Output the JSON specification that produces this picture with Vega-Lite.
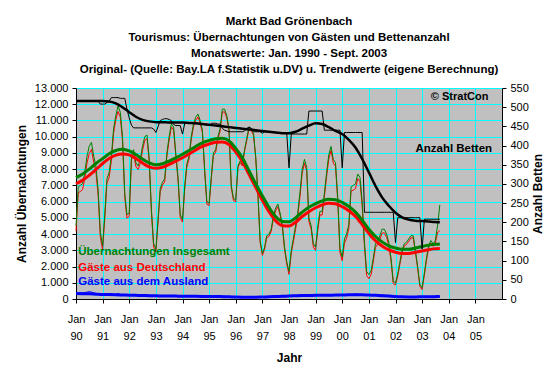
{
  "$schema": "https://vega.github.io/schema/vega-lite/v6.json",
  "width": 426,
  "height": 211,
  "autosize": {"type": "none"},
  "padding": {"left": 76, "top": 88, "right": 58, "bottom": 75},
  "background": "white",
  "config": {
    "font": "Liberation Sans",
    "view": {"fill": "#C0C0C0", "stroke": null},
    "axis": {
      "labelFont": "Liberation Sans", "labelFontSize": 11, "labelColor": "black",
      "titleFont": "Liberation Sans", "titleFontSize": 12, "titleFontWeight": "bold", "titleColor": "black",
      "domainColor": "black", "tickColor": "black", "tickSize": 4,
      "gridColor": "#00FFFF", "gridOpacity": 1, "gridWidth": 1
    }
  },
  "title": {
    "text": ["Markt Bad Grönenbach", "Tourismus: Übernachtungen von Gästen und Bettenanzahl", "Monatswerte: Jan. 1990 - Sept. 2003", "Original- (Quelle: Bay.LA f.Statistik u.DV) u. Trendwerte (eigene Berechnung)"],
    "fontSize": 11.5, "fontWeight": "bold", "lineHeight": 16, "anchor": "middle", "frame": "group", "offset": 7, "color": "black", "font": "Liberation Sans"
  },
  "datasets": {
    "m": [
      {"d":"1990-01","t":4500,"g":4170,"a":330,"b":516},{"d":"1990-02","t":6900,"g":6550,"a":350,"b":516},{"d":"1990-03","t":7000,"g":6620,"a":380,"b":516},{"d":"1990-04","t":7100,"g":6740,"a":360,"b":516},{"d":"1990-05","t":7800,"g":7400,"a":400,"b":516},{"d":"1990-06","t":8800,"g":8380,"a":420,"b":516},{"d":"1990-07","t":9400,"g":8950,"a":450,"b":516},{"d":"1990-08","t":9650,"g":9220,"a":430,"b":516},{"d":"1990-09","t":8800,"g":8420,"a":380,"b":516},{"d":"1990-10","t":8200,"g":7850,"a":350,"b":516},{"d":"1990-11","t":6700,"g":6380,"a":320,"b":516},{"d":"1990-12","t":4100,"g":3800,"a":300,"b":508},
      {"d":"1991-01","t":3300,"g":3020,"a":280,"b":508},{"d":"1991-02","t":5300,"g":5030,"a":270,"b":508},{"d":"1991-03","t":7400,"g":7120,"a":280,"b":512},{"d":"1991-04","t":7800,"g":7500,"a":300,"b":516},{"d":"1991-05","t":8800,"g":8510,"a":290,"b":525},{"d":"1991-06","t":10500,"g":10220,"a":280,"b":525},{"d":"1991-07","t":11300,"g":11040,"a":260,"b":525},{"d":"1991-08","t":11900,"g":11550,"a":350,"b":525},{"d":"1991-09","t":11500,"g":11220,"a":280,"b":523},{"d":"1991-10","t":10000,"g":9740,"a":260,"b":523},{"d":"1991-11","t":6500,"g":6260,"a":240,"b":523},{"d":"1991-12","t":5200,"g":4980,"a":220,"b":495},
      {"d":"1992-01","t":5300,"g":5080,"a":220,"b":472},{"d":"1992-02","t":8800,"g":8570,"a":230,"b":453},{"d":"1992-03","t":9200,"g":8960,"a":240,"b":446},{"d":"1992-04","t":8400,"g":8170,"a":230,"b":446},{"d":"1992-05","t":8200,"g":7980,"a":220,"b":446},{"d":"1992-06","t":8600,"g":8350,"a":250,"b":446},{"d":"1992-07","t":9400,"g":9140,"a":260,"b":446},{"d":"1992-08","t":10000,"g":9760,"a":240,"b":446},{"d":"1992-09","t":10100,"g":9880,"a":220,"b":446},{"d":"1992-10","t":8700,"g":8490,"a":210,"b":446},{"d":"1992-11","t":5500,"g":5300,"a":200,"b":446},{"d":"1992-12","t":3400,"g":3200,"a":200,"b":443},
      {"d":"1993-01","t":3100,"g":2910,"a":190,"b":434},{"d":"1993-02","t":5000,"g":4810,"a":190,"b":450},{"d":"1993-03","t":6800,"g":6600,"a":200,"b":465},{"d":"1993-04","t":7200,"g":7020,"a":180,"b":468},{"d":"1993-05","t":7400,"g":7210,"a":190,"b":470},{"d":"1993-06","t":9000,"g":8790,"a":210,"b":470},{"d":"1993-07","t":10000,"g":9780,"a":220,"b":468},{"d":"1993-08","t":10800,"g":10600,"a":200,"b":465},{"d":"1993-09","t":10600,"g":10410,"a":190,"b":455},{"d":"1993-10","t":9000,"g":8820,"a":180,"b":452},{"d":"1993-11","t":7500,"g":7330,"a":170,"b":452},{"d":"1993-12","t":5200,"g":5030,"a":170,"b":452},
      {"d":"1994-01","t":4900,"g":4740,"a":160,"b":430},{"d":"1994-02","t":7000,"g":6830,"a":170,"b":458},{"d":"1994-03","t":8300,"g":8120,"a":180,"b":460},{"d":"1994-04","t":8800,"g":8630,"a":170,"b":460},{"d":"1994-05","t":10000,"g":9830,"a":170,"b":460},{"d":"1994-06","t":10800,"g":10610,"a":190,"b":460},{"d":"1994-07","t":11200,"g":11000,"a":200,"b":458},{"d":"1994-08","t":11400,"g":11220,"a":180,"b":458},{"d":"1994-09","t":11000,"g":10830,"a":170,"b":458},{"d":"1994-10","t":10400,"g":10240,"a":160,"b":456},{"d":"1994-11","t":8000,"g":7840,"a":160,"b":456},{"d":"1994-12","t":6000,"g":5850,"a":150,"b":456},
      {"d":"1995-01","t":5900,"g":5750,"a":150,"b":452},{"d":"1995-02","t":7600,"g":7450,"a":150,"b":458},{"d":"1995-03","t":9000,"g":8840,"a":160,"b":458},{"d":"1995-04","t":9200,"g":9050,"a":150,"b":458},{"d":"1995-05","t":10000,"g":9850,"a":150,"b":456},{"d":"1995-06","t":10500,"g":10330,"a":170,"b":456},{"d":"1995-07","t":11700,"g":11520,"a":180,"b":445},{"d":"1995-08","t":11700,"g":11530,"a":170,"b":440},{"d":"1995-09","t":11300,"g":11150,"a":150,"b":438},{"d":"1995-10","t":10500,"g":10360,"a":140,"b":436},{"d":"1995-11","t":7000,"g":6860,"a":140,"b":436},{"d":"1995-12","t":6200,"g":6070,"a":130,"b":436},
      {"d":"1996-01","t":6100,"g":5980,"a":120,"b":436},{"d":"1996-02","t":8200,"g":8090,"a":110,"b":436},{"d":"1996-03","t":8500,"g":8390,"a":110,"b":436},{"d":"1996-04","t":8300,"g":8200,"a":100,"b":436},{"d":"1996-05","t":9200,"g":9090,"a":110,"b":438},{"d":"1996-06","t":9900,"g":9780,"a":120,"b":445},{"d":"1996-07","t":10600,"g":10470,"a":130,"b":448},{"d":"1996-08","t":10500,"g":10380,"a":120,"b":445},{"d":"1996-09","t":10200,"g":10090,"a":110,"b":436},{"d":"1996-10","t":8800,"g":8700,"a":100,"b":436},{"d":"1996-11","t":6500,"g":6400,"a":100,"b":436},{"d":"1996-12","t":3600,"g":3500,"a":100,"b":436},
      {"d":"1997-01","t":2800,"g":2690,"a":110,"b":432},{"d":"1997-02","t":3200,"g":3080,"a":120,"b":436},{"d":"1997-03","t":3900,"g":3770,"a":130,"b":436},{"d":"1997-04","t":4000,"g":3860,"a":140,"b":436},{"d":"1997-05","t":4300,"g":4150,"a":150,"b":436},{"d":"1997-06","t":5100,"g":4940,"a":160,"b":436},{"d":"1997-07","t":5600,"g":5430,"a":170,"b":434},{"d":"1997-08","t":5850,"g":5690,"a":160,"b":434},{"d":"1997-09","t":5300,"g":5150,"a":150,"b":434},{"d":"1997-10","t":4600,"g":4460,"a":140,"b":432},{"d":"1997-11","t":3200,"g":3060,"a":140,"b":432},{"d":"1997-12","t":2300,"g":2150,"a":150,"b":432},
      {"d":"1998-01","t":1700,"g":1520,"a":180,"b":342},{"d":"1998-02","t":3000,"g":2810,"a":190,"b":430},{"d":"1998-03","t":3700,"g":3500,"a":200,"b":430},{"d":"1998-04","t":4500,"g":4290,"a":210,"b":430},{"d":"1998-05","t":5300,"g":5080,"a":220,"b":430},{"d":"1998-06","t":6600,"g":6340,"a":260,"b":430},{"d":"1998-07","t":8000,"g":7750,"a":250,"b":430},{"d":"1998-08","t":8600,"g":8360,"a":240,"b":430},{"d":"1998-09","t":8100,"g":7880,"a":220,"b":430},{"d":"1998-10","t":5000,"g":4790,"a":210,"b":490},{"d":"1998-11","t":4500,"g":4300,"a":200,"b":490},{"d":"1998-12","t":3400,"g":3200,"a":200,"b":490},
      {"d":"1999-01","t":3200,"g":2990,"a":210,"b":490},{"d":"1999-02","t":4500,"g":4280,"a":220,"b":490},{"d":"1999-03","t":5400,"g":5170,"a":230,"b":490},{"d":"1999-04","t":5400,"g":5180,"a":220,"b":490},{"d":"1999-05","t":6500,"g":6270,"a":230,"b":440},{"d":"1999-06","t":7800,"g":7540,"a":260,"b":440},{"d":"1999-07","t":8900,"g":8630,"a":270,"b":440},{"d":"1999-08","t":9400,"g":9150,"a":250,"b":440},{"d":"1999-09","t":8600,"g":8370,"a":230,"b":440},{"d":"1999-10","t":8400,"g":8180,"a":220,"b":440},{"d":"1999-11","t":6200,"g":5990,"a":210,"b":440},{"d":"1999-12","t":3100,"g":2880,"a":220,"b":440},
      {"d":"2000-01","t":2600,"g":2360,"a":240,"b":342},{"d":"2000-02","t":3700,"g":3450,"a":250,"b":434},{"d":"2000-03","t":4000,"g":3740,"a":260,"b":434},{"d":"2000-04","t":4600,"g":4350,"a":250,"b":434},{"d":"2000-05","t":6900,"g":6640,"a":260,"b":434},{"d":"2000-06","t":7000,"g":6710,"a":290,"b":434},{"d":"2000-07","t":7100,"g":6800,"a":300,"b":434},{"d":"2000-08","t":7700,"g":7410,"a":290,"b":434},{"d":"2000-09","t":7500,"g":7230,"a":270,"b":434},{"d":"2000-10","t":6000,"g":5740,"a":260,"b":434},{"d":"2000-11","t":3500,"g":3250,"a":250,"b":226},{"d":"2000-12","t":1700,"g":1450,"a":250,"b":226},
      {"d":"2001-01","t":1500,"g":1250,"a":250,"b":226},{"d":"2001-02","t":1750,"g":1510,"a":240,"b":226},{"d":"2001-03","t":2500,"g":2270,"a":230,"b":226},{"d":"2001-04","t":3400,"g":3180,"a":220,"b":226},{"d":"2001-05","t":3600,"g":3380,"a":220,"b":226},{"d":"2001-06","t":3900,"g":3670,"a":230,"b":226},{"d":"2001-07","t":4300,"g":4060,"a":240,"b":226},{"d":"2001-08","t":4300,"g":4080,"a":220,"b":226},{"d":"2001-09","t":4000,"g":3800,"a":200,"b":226},{"d":"2001-10","t":3500,"g":3320,"a":180,"b":226},{"d":"2001-11","t":2500,"g":2330,"a":170,"b":226},{"d":"2001-12","t":1100,"g":950,"a":150,"b":226},
      {"d":"2002-01","t":1000,"g":870,"a":130,"b":147},{"d":"2002-02","t":1550,"g":1420,"a":130,"b":212},{"d":"2002-03","t":2250,"g":2110,"a":140,"b":212},{"d":"2002-04","t":3000,"g":2870,"a":130,"b":212},{"d":"2002-05","t":3400,"g":3270,"a":130,"b":212},{"d":"2002-06","t":3500,"g":3360,"a":140,"b":212},{"d":"2002-07","t":3700,"g":3550,"a":150,"b":212},{"d":"2002-08","t":3900,"g":3760,"a":140,"b":212},{"d":"2002-09","t":3900,"g":3770,"a":130,"b":212},{"d":"2002-10","t":3000,"g":2880,"a":120,"b":212},{"d":"2002-11","t":2000,"g":1880,"a":120,"b":212},{"d":"2002-12","t":900,"g":780,"a":120,"b":212},
      {"d":"2003-01","t":700,"g":580,"a":120,"b":130},{"d":"2003-02","t":1600,"g":1470,"a":130,"b":208},{"d":"2003-03","t":2500,"g":2360,"a":140,"b":208},{"d":"2003-04","t":3300,"g":3160,"a":140,"b":208},{"d":"2003-05","t":3600,"g":3450,"a":150,"b":208},{"d":"2003-06","t":3400,"g":3240,"a":160,"b":208},{"d":"2003-07","t":3600,"g":3430,"a":170,"b":208},{"d":"2003-08","t":4500,"g":4100,"a":200,"b":208},{"d":"2003-09","t":5800,"g":4200,"a":150,"b":208}
    ],
    "tr": [
      {"d":"1990-01","tt":7480,"tg":7100,"ta":340,"tb":516},{"d":"1990-04","tt":7700,"tg":7320,"ta":330,"tb":516},{"d":"1990-07","tt":8000,"tg":7620,"ta":320,"tb":516},{"d":"1990-10","tt":8350,"tg":7970,"ta":300,"tb":516},
      {"d":"1991-01","tt":8650,"tg":8350,"ta":280,"tb":516},{"d":"1991-04","tt":8950,"tg":8650,"ta":270,"tb":515},{"d":"1991-07","tt":9150,"tg":8860,"ta":260,"tb":510},{"d":"1991-10","tt":9220,"tg":8940,"ta":250,"tb":500},
      {"d":"1992-01","tt":9120,"tg":8880,"ta":235,"tb":487},{"d":"1992-04","tt":8900,"tg":8660,"ta":225,"tb":475},{"d":"1992-07","tt":8620,"tg":8380,"ta":215,"tb":467},{"d":"1992-10","tt":8380,"tg":8140,"ta":205,"tb":463},
      {"d":"1993-01","tt":8270,"tg":8060,"ta":195,"tb":461},{"d":"1993-04","tt":8330,"tg":8120,"ta":190,"tb":461},{"d":"1993-07","tt":8500,"tg":8290,"ta":185,"tb":460},{"d":"1993-10","tt":8700,"tg":8490,"ta":180,"tb":460},
      {"d":"1994-01","tt":8920,"tg":8700,"ta":170,"tb":460},{"d":"1994-04","tt":9150,"tg":8930,"ta":170,"tb":459},{"d":"1994-07","tt":9400,"tg":9180,"ta":165,"tb":458},{"d":"1994-10","tt":9620,"tg":9400,"ta":160,"tb":456},
      {"d":"1995-01","tt":9770,"tg":9550,"ta":155,"tb":454},{"d":"1995-04","tt":9880,"tg":9660,"ta":150,"tb":452},{"d":"1995-07","tt":9900,"tg":9680,"ta":145,"tb":450},{"d":"1995-10","tt":9740,"tg":9520,"ta":135,"tb":448},
      {"d":"1996-01","tt":9280,"tg":9060,"ta":120,"tb":446},{"d":"1996-04","tt":8700,"tg":8480,"ta":110,"tb":444},{"d":"1996-07","tt":7900,"tg":7680,"ta":105,"tb":442},{"d":"1996-10","tt":7100,"tg":6880,"ta":110,"tb":440},
      {"d":"1997-01","tt":6350,"tg":6090,"ta":120,"tb":438},{"d":"1997-04","tt":5650,"tg":5390,"ta":135,"tb":436},{"d":"1997-07","tt":5080,"tg":4820,"ta":150,"tb":434},{"d":"1997-10","tt":4780,"tg":4520,"ta":165,"tb":432},
      {"d":"1998-01","tt":4760,"tg":4490,"ta":185,"tb":432},{"d":"1998-04","tt":5000,"tg":4730,"ta":200,"tb":436},{"d":"1998-07","tt":5350,"tg":5080,"ta":215,"tb":444},{"d":"1998-10","tt":5650,"tg":5380,"ta":220,"tb":452},
      {"d":"1999-01","tt":5870,"tg":5620,"ta":225,"tb":458},{"d":"1999-04","tt":6050,"tg":5800,"ta":230,"tb":456},{"d":"1999-07","tt":6150,"tg":5900,"ta":235,"tb":448},{"d":"1999-10","tt":6120,"tg":5870,"ta":240,"tb":438},
      {"d":"2000-01","tt":5950,"tg":5690,"ta":250,"tb":430},{"d":"2000-04","tt":5700,"tg":5440,"ta":260,"tb":415},{"d":"2000-07","tt":5350,"tg":5090,"ta":265,"tb":395},{"d":"2000-10","tt":4850,"tg":4590,"ta":255,"tb":365},
      {"d":"2001-01","tt":4300,"tg":4040,"ta":240,"tb":330},{"d":"2001-04","tt":3850,"tg":3590,"ta":225,"tb":295},{"d":"2001-07","tt":3520,"tg":3260,"ta":205,"tb":265},{"d":"2001-10","tt":3280,"tg":3020,"ta":180,"tb":243},
      {"d":"2002-01","tt":3140,"tg":2880,"ta":150,"tb":225},{"d":"2002-04","tt":3060,"tg":2800,"ta":135,"tb":213},{"d":"2002-07","tt":3060,"tg":2800,"ta":130,"tb":207},{"d":"2002-10","tt":3140,"tg":2880,"ta":130,"tb":204},
      {"d":"2003-01","tt":3240,"tg":2960,"ta":135,"tb":203},{"d":"2003-04","tt":3320,"tg":3040,"ta":140,"tb":202},{"d":"2003-07","tt":3370,"tg":3090,"ta":145,"tb":201},{"d":"2003-09","tt":3390,"tg":3110,"ta":150,"tb":200}
    ]
  },
  "encoding": {
    "x": {
      "field": "d", "type": "temporal", "title": "Jahr",
      "scale": {"domain": [{"year": 1990, "month": 1, "date": 1}, {"year": 2006, "month": 1, "date": 1}]},
      "axis": {
        "title": "Jahr",
        "values": [{"year":1990,"month":1,"date":1},{"year":1991,"month":1,"date":1},{"year":1992,"month":1,"date":1},{"year":1993,"month":1,"date":1},{"year":1994,"month":1,"date":1},{"year":1995,"month":1,"date":1},{"year":1996,"month":1,"date":1},{"year":1997,"month":1,"date":1},{"year":1998,"month":1,"date":1},{"year":1999,"month":1,"date":1},{"year":2000,"month":1,"date":1},{"year":2001,"month":1,"date":1},{"year":2002,"month":1,"date":1},{"year":2003,"month":1,"date":1},{"year":2004,"month":1,"date":1},{"year":2005,"month":1,"date":1}],
        "labelExpr": "['Jan', timeFormat(datum.value, '%y')]",
        "labelLineHeight": 17, "labelPadding": 10, "titlePadding": 11, "grid": true, "labelAngle": 0, "labelFlush": false, "labelOverlap": false
      }
    }
  },
  "layer": [
    {
      "layer": [
        {
          "data": {"name": "m"},
          "mark": {"type": "line", "color": "#0000FF", "strokeWidth": 1},
          "encoding": {
            "y": {"field": "a", "type": "quantitative", "title": "Anzahl Übernachtungen", "scale": {"domain": [0, 13000], "nice": false},
              "axis": {"title": "Anzahl Übernachtungen", "orient": "left", "values": [0,1000,2000,3000,4000,5000,6000,7000,8000,9000,10000,11000,12000,13000], "labelExpr": "replace(format(datum.value, ','), ',', '.')", "grid": true, "labelPadding": 4, "titlePadding": 6, "labelOverlap": false}}
          }
        },
        {
          "data": {"name": "tr"},
          "mark": {"type": "line", "color": "#0000FF", "strokeWidth": 3, "interpolate": "monotone"},
          "encoding": {"y": {"field": "ta", "type": "quantitative", "title": "Anzahl Übernachtungen", "scale": {"domain": [0, 13000], "nice": false},
              "axis": {"title": "Anzahl Übernachtungen", "orient": "left", "values": [0,1000,2000,3000,4000,5000,6000,7000,8000,9000,10000,11000,12000,13000], "labelExpr": "replace(format(datum.value, ','), ',', '.')", "grid": true, "labelPadding": 4, "titlePadding": 6, "labelOverlap": false}}}
        },
        {
          "data": {"name": "m"},
          "mark": {"type": "line", "color": "#FF0000", "strokeWidth": 1},
          "encoding": {"y": {"field": "g", "type": "quantitative", "title": "Anzahl Übernachtungen", "scale": {"domain": [0, 13000], "nice": false},
              "axis": {"title": "Anzahl Übernachtungen", "orient": "left", "values": [0,1000,2000,3000,4000,5000,6000,7000,8000,9000,10000,11000,12000,13000], "labelExpr": "replace(format(datum.value, ','), ',', '.')", "grid": true, "labelPadding": 4, "titlePadding": 6, "labelOverlap": false}}}
        },
        {
          "data": {"name": "m"},
          "mark": {"type": "line", "color": "#008000", "strokeWidth": 1},
          "encoding": {"y": {"field": "t", "type": "quantitative", "title": "Anzahl Übernachtungen", "scale": {"domain": [0, 13000], "nice": false},
              "axis": {"title": "Anzahl Übernachtungen", "orient": "left", "values": [0,1000,2000,3000,4000,5000,6000,7000,8000,9000,10000,11000,12000,13000], "labelExpr": "replace(format(datum.value, ','), ',', '.')", "grid": true, "labelPadding": 4, "titlePadding": 6, "labelOverlap": false}}}
        },
        {
          "data": {"name": "tr"},
          "mark": {"type": "line", "color": "#FF0000", "strokeWidth": 3, "interpolate": "monotone"},
          "encoding": {"y": {"field": "tg", "type": "quantitative", "title": "Anzahl Übernachtungen", "scale": {"domain": [0, 13000], "nice": false},
              "axis": {"title": "Anzahl Übernachtungen", "orient": "left", "values": [0,1000,2000,3000,4000,5000,6000,7000,8000,9000,10000,11000,12000,13000], "labelExpr": "replace(format(datum.value, ','), ',', '.')", "grid": true, "labelPadding": 4, "titlePadding": 6, "labelOverlap": false}}}
        },
        {
          "data": {"name": "tr"},
          "mark": {"type": "line", "color": "#008000", "strokeWidth": 3, "interpolate": "monotone"},
          "encoding": {"y": {"field": "tt", "type": "quantitative", "title": "Anzahl Übernachtungen", "scale": {"domain": [0, 13000], "nice": false},
              "axis": {"title": "Anzahl Übernachtungen", "orient": "left", "values": [0,1000,2000,3000,4000,5000,6000,7000,8000,9000,10000,11000,12000,13000], "labelExpr": "replace(format(datum.value, ','), ',', '.')", "grid": true, "labelPadding": 4, "titlePadding": 6, "labelOverlap": false}}}
        },
        {
          "data": {"name": "m"},
          "transform": [{"filter": "utcyear(datum.d) == 1990 && utcmonth(datum.d) == 1"}],
          "mark": {"type": "text", "color": "#008000", "fontWeight": "bold", "fontSize": 11.5, "align": "left", "baseline": "middle", "font": "Liberation Sans"},
          "encoding": {
            "text": {"value": "Übernachtungen Insgesamt"},
            "y": {"datum": 2890, "type": "quantitative", "title": "Anzahl Übernachtungen", "scale": {"domain": [0, 13000], "nice": false},
              "axis": {"title": "Anzahl Übernachtungen", "orient": "left", "values": [0,1000,2000,3000,4000,5000,6000,7000,8000,9000,10000,11000,12000,13000], "labelExpr": "replace(format(datum.value, ','), ',', '.')", "grid": true, "labelPadding": 4, "titlePadding": 6, "labelOverlap": false}}
          }
        },
        {
          "data": {"name": "m"},
          "transform": [{"filter": "utcyear(datum.d) == 1990 && utcmonth(datum.d) == 1"}],
          "mark": {"type": "text", "color": "#FF0000", "fontWeight": "bold", "fontSize": 11.5, "align": "left", "baseline": "middle", "font": "Liberation Sans"},
          "encoding": {
            "text": {"value": "Gäste aus Deutschland"},
            "y": {"datum": 1920, "type": "quantitative", "title": "Anzahl Übernachtungen", "scale": {"domain": [0, 13000], "nice": false},
              "axis": {"title": "Anzahl Übernachtungen", "orient": "left", "values": [0,1000,2000,3000,4000,5000,6000,7000,8000,9000,10000,11000,12000,13000], "labelExpr": "replace(format(datum.value, ','), ',', '.')", "grid": true, "labelPadding": 4, "titlePadding": 6, "labelOverlap": false}}
          }
        },
        {
          "data": {"name": "m"},
          "transform": [{"filter": "utcyear(datum.d) == 1990 && utcmonth(datum.d) == 1"}],
          "mark": {"type": "text", "color": "#0000FF", "fontWeight": "bold", "fontSize": 11.5, "align": "left", "baseline": "middle", "font": "Liberation Sans"},
          "encoding": {
            "text": {"value": "Gäste aus dem Ausland"},
            "y": {"datum": 1030, "type": "quantitative", "title": "Anzahl Übernachtungen", "scale": {"domain": [0, 13000], "nice": false},
              "axis": {"title": "Anzahl Übernachtungen", "orient": "left", "values": [0,1000,2000,3000,4000,5000,6000,7000,8000,9000,10000,11000,12000,13000], "labelExpr": "replace(format(datum.value, ','), ',', '.')", "grid": true, "labelPadding": 4, "titlePadding": 6, "labelOverlap": false}}
          }
        },
        {
          "data": {"name": "m"},
          "transform": [{"filter": "utcyear(datum.d) == 2003 && utcmonth(datum.d) == 4"}],
          "mark": {"type": "text", "color": "black", "fontWeight": "bold", "fontSize": 11, "align": "left", "baseline": "middle", "font": "Liberation Sans"},
          "encoding": {
            "text": {"value": "© StratCon"},
            "y": {"datum": 12460, "type": "quantitative", "title": "Anzahl Übernachtungen", "scale": {"domain": [0, 13000], "nice": false},
              "axis": {"title": "Anzahl Übernachtungen", "orient": "left", "values": [0,1000,2000,3000,4000,5000,6000,7000,8000,9000,10000,11000,12000,13000], "labelExpr": "replace(format(datum.value, ','), ',', '.')", "grid": true, "labelPadding": 4, "titlePadding": 6, "labelOverlap": false}}
          }
        }
      ]
    },
    {
      "layer": [
        {
          "data": {"name": "m"},
          "mark": {"type": "line", "color": "black", "strokeWidth": 1},
          "encoding": {
            "y": {"field": "b", "type": "quantitative", "title": "Anzahl Betten", "scale": {"domain": [0, 550], "nice": false},
              "axis": {"title": "Anzahl Betten", "orient": "right", "values": [0,50,100,150,200,250,300,350,400,450,500,550], "grid": false, "labelPadding": 4, "titlePadding": 16, "titleAngle": 270, "labelOverlap": false}}
          }
        },
        {
          "data": {"name": "tr"},
          "mark": {"type": "line", "color": "black", "strokeWidth": 2.5, "interpolate": "monotone"},
          "encoding": {
            "y": {"field": "tb", "type": "quantitative", "title": "Anzahl Betten", "scale": {"domain": [0, 550], "nice": false},
              "axis": {"title": "Anzahl Betten", "orient": "right", "values": [0,50,100,150,200,250,300,350,400,450,500,550], "grid": false, "labelPadding": 4, "titlePadding": 16, "titleAngle": 270, "labelOverlap": false}}
          }
        },
        {
          "data": {"name": "m"},
          "transform": [{"filter": "utcyear(datum.d) == 2002 && utcmonth(datum.d) == 9"}],
          "mark": {"type": "text", "color": "black", "fontWeight": "bold", "fontSize": 11.5, "align": "left", "baseline": "middle", "font": "Liberation Sans"},
          "encoding": {
            "text": {"value": "Anzahl Betten"},
            "y": {"datum": 390, "type": "quantitative", "title": "Anzahl Betten", "scale": {"domain": [0, 550], "nice": false},
              "axis": {"title": "Anzahl Betten", "orient": "right", "values": [0,50,100,150,200,250,300,350,400,450,500,550], "grid": false, "labelPadding": 4, "titlePadding": 16, "titleAngle": 270, "labelOverlap": false}}
          }
        }
      ]
    }
  ],
  "resolve": {"scale": {"y": "independent"}}
}
